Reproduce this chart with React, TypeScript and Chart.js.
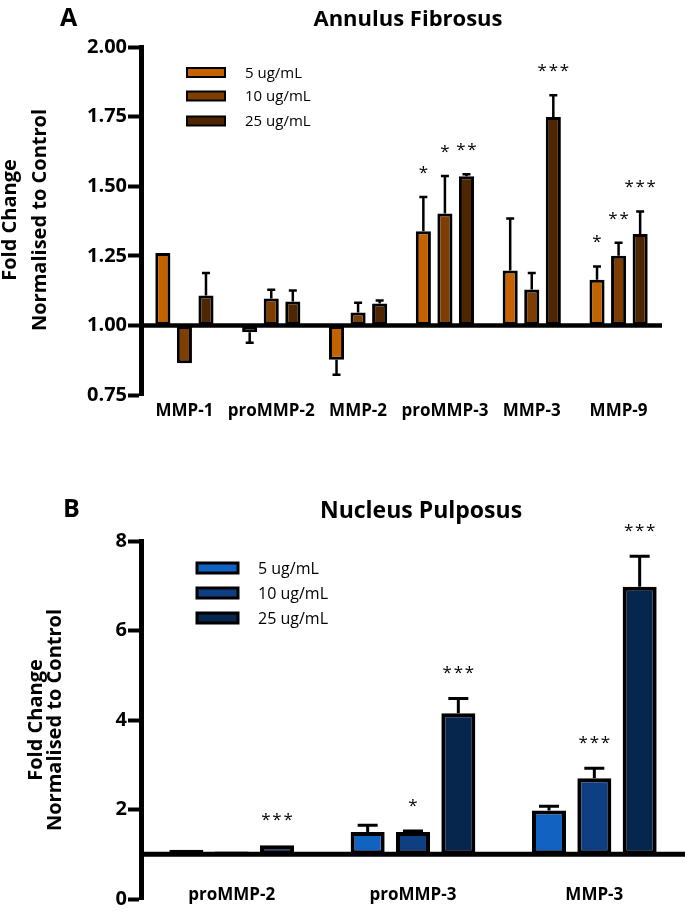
import React, { useEffect, useRef } from 'react';
import { Chart, registerables } from 'chart.js';

Chart.register(...registerables);

const FONT = '"Open Sans", Lato, "DejaVu Sans", sans-serif';

// ---------- Panel A: Annulus Fibrosus ----------
const afCategories = ['MMP-1', 'proMMP-2', 'MMP-2', 'proMMP-3', 'MMP-3', 'MMP-9'];
const afSeriesLabels = ['5 ug/mL', '10 ug/mL', '25 ug/mL'];
const af5 = [1.26, 0.975, 0.877, 1.338, 1.197, 1.164];
const af5Err = [0, 0.037, 0.054, 0.123, 0.187, 0.048];
const af5Sig = ['', '', '', '*', '', '*'];
const af10 = [0.864, 1.097, 1.046, 1.402, 1.129, 1.25];
const af10Err = [0, 0.031, 0.035, 0.135, 0.059, 0.047];
const af10Sig = ['', '', '', '*', '', '**'];
const af25 = [1.107, 1.086, 1.079, 1.536, 1.749, 1.328];
const af25Err = [0.081, 0.039, 0.01, 0.007, 0.078, 0.081];
const af25Sig = ['', '', '', '**', '***', '***'];
const afColors = ['#C46200', '#7E3E02', '#4E2602'];
const afYMin = 0.75;
const afYMax = 2.0;
const afYStep = 0.25;

// ---------- Panel B: Nucleus Pulposus ----------
const npCategories = ['proMMP-2', 'proMMP-3', 'MMP-3'];
const npSeriesLabels = ['5 ug/mL', '10 ug/mL', '25 ug/mL'];
const np5 = [1.1, 1.5, 1.98];
const np5Err = [0, 0.15, 0.09];
const np5Sig = ['', '', ''];
const np10 = [1.06, 1.5, 2.7];
const np10Err = [0, 0.02, 0.22];
const np10Sig = ['', '*', '***'];
const np25 = [1.2, 4.15, 6.98];
const np25Err = [0, 0.33, 0.68];
const np25Sig = ['***', '***', '***'];
const npColors = ['#1262C2', '#0E3F82', '#07264E'];
const npYMin = 0;
const npYMax = 8;
const npYStep = 2;

const yTitleLines = ['Fold Change', 'Normalised to Control'];
const baseValue = 1;

type Series = { label: string; data: number[]; err: number[]; sig: string[]; color: string };

type Panel = {
  width: number;
  height: number;
  top: number;
  letter: string;
  letterX: number;
  letterY: number;
  letterFont: number;
  title: string;
  titleX: number;
  titleY: number;
  titleFont: number;
  yTitleX: number[];
  yTitleY: number;
  yTitleFont: number;
  categories: string[];
  series: Series[];
  yMin: number;
  yMax: number;
  yStep: number;
  decimals: number;
  tickFont: number;
  padding: { top: number; right: number; bottom: number; left: number };
  axisWidth: number;
  axisLineW: number;
  tickLen: number;
  tickW: number;
  barPct: number;
  catPct: number;
  borderW: number;
  errW: number;
  capW: number;
  baselineW: number;
  legendX: number;
  legendYs: number[];
  legendW: number;
  legendH: number;
  legendBorder: number;
  legendTextX: number;
  legendFont: number;
  catLabelY: number;
  catFont: number;
  starOffset: number;
  starFont: number;
};

const panelA: Panel = {
  width: 685,
  height: 450,
  top: 0,
  letter: 'A',
  letterX: 60,
  letterY: 26,
  letterFont: 25,
  title: 'Annulus Fibrosus',
  titleX: 408,
  titleY: 26,
  titleFont: 22,
  yTitleX: [16, 46],
  yTitleY: 220,
  yTitleFont: 20,
  categories: afCategories,
  series: [
    { label: afSeriesLabels[0], data: af5, err: af5Err, sig: af5Sig, color: afColors[0] },
    { label: afSeriesLabels[1], data: af10, err: af10Err, sig: af10Sig, color: afColors[1] },
    { label: afSeriesLabels[2], data: af25, err: af25Err, sig: af25Sig, color: afColors[2] },
  ],
  yMin: afYMin,
  yMax: afYMax,
  yStep: afYStep,
  decimals: 2,
  tickFont: 20,
  padding: { top: 47, right: 23, bottom: 55, left: 0 },
  axisWidth: 141,
  axisLineW: 5,
  tickLen: 13,
  tickW: 4,
  barPct: 0.7,
  catPct: 0.745,
  borderW: 3,
  errW: 2.5,
  capW: 8,
  baselineW: 4.5,
  legendX: 187,
  legendYs: [72.5, 96, 121],
  legendW: 38,
  legendH: 9,
  legendBorder: 2,
  legendTextX: 245,
  legendFont: 15,
  catLabelY: 416,
  catFont: 17,
  starOffset: 24,
  starFont: 17,
};

const panelB: Panel = {
  width: 685,
  height: 457,
  top: 455,
  letter: 'B',
  letterX: 63,
  letterY: 62,
  letterFont: 25,
  title: 'Nucleus Pulposus',
  titleX: 421,
  titleY: 63,
  titleFont: 23,
  yTitleX: [42, 61],
  yTitleY: 265,
  yTitleFont: 20,
  categories: npCategories,
  series: [
    { label: npSeriesLabels[0], data: np5, err: np5Err, sig: np5Sig, color: npColors[0] },
    { label: npSeriesLabels[1], data: np10, err: np10Err, sig: np10Sig, color: npColors[1] },
    { label: npSeriesLabels[2], data: np25, err: np25Err, sig: np25Sig, color: npColors[2] },
  ],
  yMin: npYMin,
  yMax: npYMax,
  yStep: npYStep,
  decimals: 0,
  tickFont: 20,
  padding: { top: 86, right: 0, bottom: 9, left: 0 },
  axisWidth: 141,
  axisLineW: 5,
  tickLen: 13,
  tickW: 4,
  barPct: 0.75,
  catPct: 0.75,
  borderW: 4,
  errW: 3,
  capW: 20,
  baselineW: 5,
  legendX: 197,
  legendYs: [113, 138, 163],
  legendW: 41,
  legendH: 10,
  legendBorder: 3,
  legendTextX: 258,
  legendFont: 16,
  catLabelY: 445,
  catFont: 17,
  starOffset: 25,
  starFont: 17,
};

function makePlugin(p: Panel) {
  return {
    id: 'panelDecor' + p.letter,
    beforeDatasetsDraw(chart: any) {
      const ctx = chart.ctx;
      const yScale = chart.scales.y;
      ctx.save();
      ctx.strokeStyle = '#000';
      ctx.lineWidth = p.errW;
      p.series.forEach((s, di) => {
        const meta = chart.getDatasetMeta(di);
        meta.data.forEach((el: any, i: number) => {
          const v = s.data[i];
          const e = s.err[i];
          if (!e) return;
          const up = v >= baseValue;
          const yEnd = yScale.getPixelForValue(up ? v + e : v - e);
          const x = el.x;
          ctx.beginPath();
          ctx.moveTo(x, el.y);
          ctx.lineTo(x, yEnd);
          ctx.moveTo(x - p.capW / 2, yEnd);
          ctx.lineTo(x + p.capW / 2, yEnd);
          ctx.stroke();
        });
      });
      ctx.restore();
    },
    afterDatasetsDraw(chart: any) {
      const ctx = chart.ctx;
      const yScale = chart.scales.y;
      const xScale = chart.scales.x;
      const area = chart.chartArea;
      ctx.save();
      // baseline at y = 1
      const by = yScale.getPixelForValue(baseValue);
      ctx.strokeStyle = '#000';
      ctx.lineWidth = p.baselineW;
      ctx.beginPath();
      ctx.moveTo(area.left, by);
      ctx.lineTo(area.right, by);
      ctx.stroke();

      // significance stars
      ctx.fillStyle = '#000';
      ctx.font = `${p.starFont}px ${FONT}`;
      ctx.textAlign = 'center';
      ctx.textBaseline = 'middle';
      p.series.forEach((s, di) => {
        const meta = chart.getDatasetMeta(di);
        meta.data.forEach((el: any, i: number) => {
          const sig = s.sig[i];
          if (!sig) return;
          const v = s.data[i];
          const e = s.err[i];
          const topPx = yScale.getPixelForValue(v + e);
          ctx.fillText(sig.split('').join('\u200A'), el.x, topPx - p.starOffset);
        });
      });

      // category labels
      ctx.font = `bold ${p.catFont}px ${FONT}`;
      ctx.textBaseline = 'alphabetic';
      p.categories.forEach((c, i) => {
        ctx.fillText(c, xScale.getPixelForValue(i), p.catLabelY);
      });

      // panel letter + title
      ctx.textAlign = 'left';
      ctx.font = `bold ${p.letterFont}px ${FONT}`;
      ctx.fillText(p.letter, p.letterX, p.letterY);
      ctx.textAlign = 'center';
      ctx.font = `bold ${p.titleFont}px ${FONT}`;
      ctx.fillText(p.title, p.titleX, p.titleY);

      // y axis title
      ctx.font = `bold ${p.yTitleFont}px ${FONT}`;
      yTitleLines.forEach((line, li) => {
        ctx.save();
        ctx.translate(p.yTitleX[li], p.yTitleY);
        ctx.rotate(-Math.PI / 2);
        ctx.textAlign = 'center';
        ctx.textBaseline = 'alphabetic';
        ctx.fillText(line, 0, 0);
        ctx.restore();
      });

      // legend
      p.series.forEach((s, li) => {
        const cy = p.legendYs[li];
        ctx.fillStyle = s.color;
        ctx.fillRect(p.legendX, cy - p.legendH / 2, p.legendW, p.legendH);
        ctx.strokeStyle = '#000';
        ctx.lineWidth = p.legendBorder;
        ctx.strokeRect(p.legendX, cy - p.legendH / 2, p.legendW, p.legendH);
        ctx.fillStyle = '#000';
        ctx.font = `${p.legendFont}px ${FONT}`;
        ctx.textAlign = 'left';
        ctx.textBaseline = 'middle';
        ctx.fillText(s.label, p.legendTextX, cy + 1);
      });
      ctx.restore();
    },
  };
}

function PanelChart({ p }: { p: Panel }) {
  const ref = useRef<HTMLCanvasElement | null>(null);
  useEffect(() => {
    if (!ref.current) return;
    const chart = new Chart(ref.current, {
      type: 'bar',
      data: {
        labels: p.categories,
        datasets: p.series.map((s) => ({
          label: s.label,
          data: s.data,
          base: baseValue,
          backgroundColor: s.color,
          borderColor: '#000',
          borderWidth: p.borderW,
          borderSkipped: false,
          barPercentage: p.barPct,
          categoryPercentage: p.catPct,
        })) as any,
      },
      options: {
        responsive: false,
        animation: false,
        devicePixelRatio: 1,
        layout: { padding: p.padding },
        plugins: {
          legend: { display: false },
          tooltip: { enabled: false },
          title: { display: false },
        },
        scales: {
          x: { display: false, offset: true },
          y: {
            min: p.yMin,
            max: p.yMax,
            afterFit: (scale: any) => {
              scale.width = p.axisWidth;
            },
            ticks: {
              stepSize: p.yStep,
              padding: 1,
              color: '#000',
              font: { family: FONT, size: p.tickFont, weight: 'bold' },
              callback: (v: any) => Number(v).toFixed(p.decimals),
            },
            grid: {
              drawOnChartArea: false,
              drawTicks: true,
              tickLength: p.tickLen,
              tickWidth: p.tickW,
              tickColor: '#000',
              color: '#000',
            },
            border: { display: true, width: p.axisLineW, color: '#000' },
          },
        },
      } as any,
      plugins: [makePlugin(p)],
    });
    return () => chart.destroy();
  }, [p]);
  return (
    <canvas
      ref={ref}
      width={p.width}
      height={p.height}
      style={{ position: 'absolute', left: 0, top: p.top, width: p.width, height: p.height }}
    />
  );
}

export default function App() {
  return (
    <div
      style={{
        position: 'absolute',
        left: 0,
        top: 0,
        width: 685,
        height: 912,
        overflow: 'hidden',
        background: '#fff',
      }}
    >
      <PanelChart p={panelA} />
      <PanelChart p={panelB} />
    </div>
  );
}
